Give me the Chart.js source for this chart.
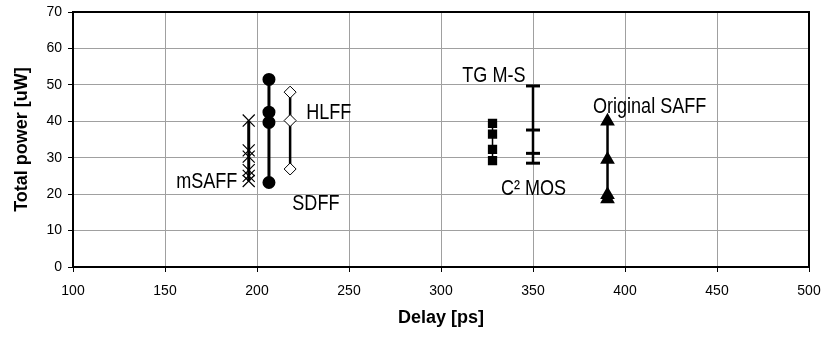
<!DOCTYPE html>
<html>
<head>
<meta charset="utf-8">
<script src="https://cdn.jsdelivr.net/npm/chart.js@4/dist/chart.umd.min.js"></script>
<style>
  body { margin: 0; background: #fff; }
</style>
</head>
<body>
<canvas id="power" width="825" height="337"></canvas>
<script>
// delay [ps] and total power [uW] measured for each flip-flop
var msaffDelay = 195.5
var msaffPower = [40.2, 32.0, 30.3, 26.6, 25.0, 23.6]

var sdffDelay = 206.5
var sdffPower = [51.5, 42.5, 39.7, 23.2]

var hlffDelay = 218
var hlffPower = [48.0, 40.2, 26.9]

var c2mosDelay = 328
var c2mosPower = [39.4, 36.5, 32.3, 29.2]

var tgmsDelay = 350
var tgmsPower = [49.7, 37.6, 31.2, 28.5]

var saffDelay = 390.5
var saffPower = [40.0, 29.5, 19.8, 18.7]

// axis ticks
var delayTicks = [100, 150, 200, 250, 300, 350, 400, 450, 500]
var powerTicks = [0, 10, 20, 30, 40, 50, 60, 70]

// name tags, placed in data units (x = delay, y = power at text baseline)
var tagText = ['mSAFF', 'HLFF', 'SDFF', 'TG M-S', 'C\u00b2 MOS', 'Original SAFF']
var tagDelay = [189.3, 226.7, 219.2, 311.6, 332.6, 382.6]
var tagPower = [21.6, 40.5, 15.6, 50.9, 19.8, 42.3]
var tagAlign = ['right', 'left', 'left', 'left', 'left', 'left']

var sans = "'Liberation Sans', Arial, sans-serif"

function points(x, ys) {
    return ys.map(function(y) { return {x: x, y: y} })
}

// keep the plot box fixed, labels are allowed to hang over it
function fixBox(w, h) {
    return function(scale) {
        if (w) scale.width = w
        if (h) scale.height = h
        scale.paddingLeft = 0
        scale.paddingRight = 0
        scale.paddingTop = 0
        scale.paddingBottom = 0
    }
}

var frame = {
    id: 'frame',
    beforeDatasetsDraw: function(chart) {
        var a = chart.chartArea
        var ctx = chart.ctx
        ctx.save()
        ctx.strokeStyle = '#000'
        ctx.lineWidth = 2
        ctx.strokeRect(a.left, a.top, a.right - a.left, a.bottom - a.top)
        ctx.restore()
    }
}

// narrow text: squeeze the sans face sideways
var tags = {
    id: 'tags',
    afterDatasetsDraw: function(chart) {
        var ctx = chart.ctx
        var xs = chart.scales.x
        var ys = chart.scales.y
        ctx.save()
        ctx.fillStyle = '#000'
        ctx.font = '22px ' + sans
        ctx.textBaseline = 'alphabetic'
        for (var i = 0; i < tagText.length; i++) {
            ctx.save()
            ctx.translate(xs.getPixelForValue(tagDelay[i]), ys.getPixelForValue(tagPower[i]))
            ctx.scale(0.82, 1)
            ctx.textAlign = tagAlign[i]
            ctx.fillText(tagText[i], 0, 0)
            ctx.restore()
        }
        ctx.restore()
    }
}

var ctx = document.getElementById('power').getContext('2d')
var chart = new Chart(ctx, {
    type: 'scatter',
    data: {
        datasets: [{
            label: 'mSAFF',
            data: points(msaffDelay, msaffPower),
            showLine: true,
            borderColor: '#000',
            borderWidth: 3,
            pointStyle: 'crossRot',
            pointRadius: 8.5,
            pointBorderWidth: 1.2,
            pointBorderColor: '#000'
        }, {
            label: 'SDFF',
            data: points(sdffDelay, sdffPower),
            showLine: true,
            borderColor: '#000',
            borderWidth: 3,
            pointStyle: 'circle',
            pointRadius: 5,
            pointBackgroundColor: '#000',
            pointBorderColor: '#000'
        }, {
            label: 'HLFF',
            data: points(hlffDelay, hlffPower),
            showLine: true,
            borderColor: '#000',
            borderWidth: 2.5,
            pointStyle: 'rectRot',
            pointRadius: 6,
            pointBorderWidth: 1,
            pointBackgroundColor: '#fff',
            pointBorderColor: '#000'
        }, {
            label: 'C2MOS',
            data: points(c2mosDelay, c2mosPower),
            showLine: true,
            borderColor: '#000',
            borderWidth: 1.5,
            pointStyle: 'rect',
            pointRadius: 5.5,
            pointBackgroundColor: '#000',
            pointBorderColor: '#000'
        }, {
            label: 'TG M-S',
            data: points(tgmsDelay, tgmsPower),
            showLine: true,
            borderColor: '#000',
            borderWidth: 2.5,
            pointStyle: 'line',
            pointRadius: 7,
            pointBorderWidth: 3,
            pointBorderColor: '#000'
        }, {
            label: 'Original SAFF',
            data: points(saffDelay, saffPower),
            showLine: true,
            borderColor: '#000',
            borderWidth: 2.5,
            pointStyle: 'triangle',
            pointRadius: 6,
            pointBackgroundColor: '#000',
            pointBorderColor: '#000'
        }]
    },
    options: {
        responsive: false,
        animation: false,
        layout: {
            padding: {top: 12, right: 16, left: 0, bottom: 0}
        },
        plugins: {
            legend: {display: false},
            tooltip: {enabled: false}
        },
        scales: {
            x: {
                type: 'linear',
                min: delayTicks[0],
                max: delayTicks[delayTicks.length - 1],
                afterBuildTicks: function(scale) {
                    scale.ticks = delayTicks.map(function(v) { return {value: v} })
                },
                afterFit: fixBox(0, 70),
                grid: {color: '#a0a0a0', tickColor: '#000', tickLength: 5, lineWidth: 1},
                border: {color: '#000', width: 2},
                ticks: {color: '#000', padding: 11, maxRotation: 0, font: {family: sans, size: 14}},
                title: {
                    display: true,
                    text: 'Delay [ps]',
                    color: '#000',
                    padding: {top: 0, bottom: 8},
                    font: {family: sans, size: 18, weight: 'bold'}
                }
            },
            y: {
                type: 'linear',
                min: powerTicks[0],
                max: powerTicks[powerTicks.length - 1],
                afterBuildTicks: function(scale) {
                    scale.ticks = powerTicks.map(function(v) { return {value: v} })
                },
                afterFit: fixBox(73, 0),
                grid: {color: '#a0a0a0', tickColor: '#000', tickLength: 5, lineWidth: 1},
                border: {color: '#000', width: 2},
                ticks: {color: '#000', padding: 6, font: {family: sans, size: 14}},
                title: {
                    display: true,
                    text: 'Total power [uW]',
                    color: '#000',
                    padding: {top: 11, bottom: 0},
                    font: {family: sans, size: 18, weight: 'bold'}
                }
            }
        }
    },
    plugins: [frame, tags]
})
</script>
</body>
</html>
